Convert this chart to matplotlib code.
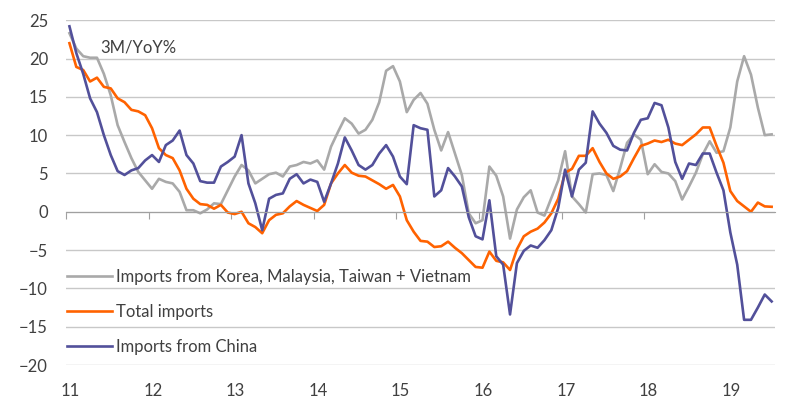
import numpy as np
import matplotlib
matplotlib.use("Agg")
import matplotlib.pyplot as plt

# monthly 3M/YoY% values, Jan 2011 - Jul 2019
korea_etc = [23.3, 21.3, 20.3, 20.1, 20.1, 18.0, 15.2, 11.3, 9.1, 7.0, 5.2, 4.1,
             3.0, 4.3, 3.9, 3.7, 2.6, 0.2, 0.2, -0.2, 0.3, 1.1, 1.0, 2.8,
             4.6, 6.1, 5.4, 3.7, 4.3, 4.9, 5.1, 4.6, 5.9, 6.1, 6.5, 6.3,
             6.7, 5.5, 8.5, 10.4, 12.2, 11.5, 10.2, 10.7, 12.0, 14.3, 18.4, 19.0,
             17.0, 13.0, 14.6, 15.5, 14.1, 10.7, 8.0, 10.4, 7.6, 4.8, -0.2, -1.5,
             -1.1, 5.9, 4.7, 2.0, -3.5, 0.3, 1.9, 2.8, -0.1, -0.5, 1.8, 4.1,
             7.9, 2.0, 1.0, -0.1, 4.9, 5.0, 4.8, 2.7, 5.7, 9.0, 10.1, 9.4,
             4.9, 6.2, 5.2, 5.0, 4.0, 1.6, 3.3, 5.1, 7.5, 9.2, 7.7, 7.9,
             11.0, 17.0, 20.3, 17.9, 13.6, 10.0, 10.1]
total = [22.0, 18.9, 18.5, 17.0, 17.5, 16.3, 16.1, 14.8, 14.3, 13.3, 13.1, 12.6,
         10.9, 8.3, 7.4, 7.0, 5.4, 3.0, 1.7, 1.0, 0.9, 0.4, 0.9, -0.1,
         -0.3, 0.0, -1.5, -2.0, -2.8, -1.1, -0.4, -0.2, 0.7, 1.4, 0.9, 0.5,
         0.1, 0.9, 3.7, 5.0, 6.1, 5.1, 4.7, 4.6, 4.1, 3.6, 3.0, 3.5,
         2.0, -1.1, -2.6, -3.8, -3.9, -4.6, -4.5, -3.9, -4.7, -5.4, -6.3, -7.2,
         -7.3, -5.2, -6.4, -6.6, -7.6, -4.9, -3.2, -2.6, -2.2, -1.4, -0.2, 1.7,
         5.1, 5.6, 7.3, 7.3, 8.3, 6.5, 5.0, 4.3, 4.6, 5.3, 7.0, 8.6,
         8.9, 9.3, 9.1, 9.4, 8.9, 8.7, 9.4, 10.1, 11.0, 11.0, 8.6, 6.4,
         2.7, 1.4, 0.7, 0.0, 1.2, 0.7, 0.65]
china = [24.2, 20.7, 18.0, 14.8, 13.0, 10.0, 7.4, 5.3, 4.8, 5.4, 5.7, 6.7,
         7.4, 6.5, 8.7, 9.3, 10.6, 7.4, 6.3, 4.0, 3.8, 3.8, 5.9, 6.5,
         7.2, 10.0, 3.7, 1.1, -2.4, 1.7, 2.2, 2.4, 4.3, 4.9, 3.7, 4.2,
         3.9, 1.3, 3.7, 6.3, 9.7, 8.0, 6.1, 5.5, 6.1, 7.6, 8.7, 7.2,
         4.6, 3.6, 11.3, 10.9, 10.7, 2.0, 2.8, 5.7, 4.6, 3.3, -0.7, -3.2,
         -3.6, 1.5, -5.8, -6.9, -13.4, -6.7, -5.1, -4.4, -4.7, -3.7, -2.4, 0.5,
         5.5, 2.0, 5.5, 6.4, 13.1, 11.5, 10.3, 8.6, 8.1, 8.0, 10.3, 12.0,
         12.2, 14.2, 13.9, 11.0, 6.5, 4.3, 6.3, 6.1, 7.6, 7.6, 5.1, 2.8,
         -2.7, -6.9, -14.1, -14.1, -12.5, -10.8, -11.7]
years = list(range(2011, 2020))
year_labels = ["11", "12", "13", "14", "15", "16", "17", "18", "19"]

x = 2011 + (np.arange(len(total)) + 0.5) / 12

plt.rcParams['font.family'] = ['Lato', 'DejaVu Sans']
text_col = '#404040'
fs = 12

fig = plt.figure(figsize=(8, 4.12), dpi=100)
ax = fig.add_axes([0.0825, 0.114, 0.886, 0.837])

ax.plot(x, korea_etc, color='#a9a9a9', lw=1.9, label='Imports from Korea, Malaysia, Taiwan + Vietnam')
ax.plot(x, total, color='#ff6200', lw=1.9, label='Total imports')
ax.plot(x, china, color='#52509a', lw=1.9, label='Imports from China')

ax.set_ylim(-20, 25)
ax.set_xlim(2011, 2019.58)
ax.set_yticks(range(-20, 30, 5))
ax.grid(axis='y', color='#c8c8c8', lw=1)
ax.set_axisbelow(True)
for s in ['left', 'right', 'top']:
    ax.spines[s].set_visible(False)
ax.spines['bottom'].set_position(('data', 0))
ax.spines['bottom'].set_color('#a0a0a0')
ax.set_xticks(years)
ax.tick_params(axis='x', length=5, color='#a0a0a0', labelbottom=False)
ax.tick_params(axis='y', length=0, pad=13, labelsize=fs, labelcolor=text_col)

sec = ax.secondary_xaxis('bottom')
sec.spines['bottom'].set_visible(False)
sec.set_xticks([y + 0.05 for y in years])
sec.set_xticklabels(year_labels)
sec.tick_params(length=0, pad=13, labelsize=fs, labelcolor=text_col)

ax.text(2011.41, 21.5, "3M/YoY%", fontsize=fs, color=text_col, va='center')

ax.legend(loc='upper left', bbox_to_anchor=(-0.02, 0.323), frameon=False,
          fontsize=fs, handlelength=2.7, handletextpad=0.25, labelspacing=1.16,
          labelcolor=text_col)

fig.savefig("out.png", dpi=100)
